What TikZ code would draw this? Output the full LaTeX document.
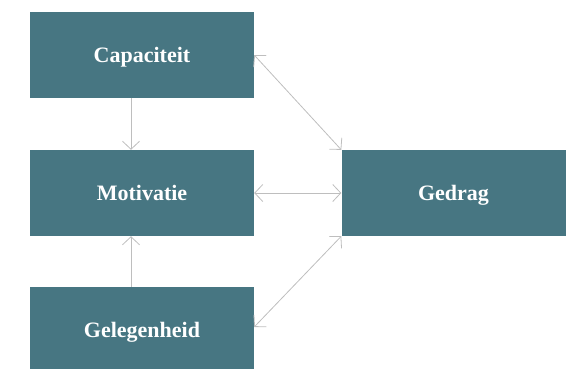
\documentclass[tikz,border=0pt]{standalone}
\usepackage{fontspec}
\setmainfont{Liberation Serif}
\usetikzlibrary{arrows.meta}

\definecolor{boxteal}{RGB}{71,118,130}
\definecolor{linegrey}{RGB}{190,190,190}

\tikzset{
    box/.style={rectangle, fill=boxteal, text=white, minimum width=224pt, minimum height=86pt,
        inner sep=0pt, text height=15pt, text depth=0pt, font=\bfseries\fontsize{22}{24}\selectfont},
    link/.style={draw=linegrey, line width=0.8pt, {Straight Barb[length=8pt, width=17pt]}-{Straight Barb[length=8pt, width=17pt]}},
    uplink/.style={draw=linegrey, line width=0.8pt, -{Straight Barb[length=8pt, width=17pt]}}
}

\begin{document}
\begin{tikzpicture}[x=1pt, y=-1pt]
    \useasboundingbox (0,0) rectangle (575,368);

    % Draw nodes
    \node[box] (cap) at (142,55) {Capaciteit};
    \node[box] (mot) at (142,193) {Motivatie};
    \node[box] (geleg) at (142,330) {Gelegenheid};
    \node[box] (gedrag) at (453.5,193) {Gedrag};

    % Draw connections
    \draw[uplink] ([xshift=-11pt]cap.south) -- ([xshift=-11pt]mot.north);
    \draw[uplink] ([xshift=-11pt]geleg.north) -- ([xshift=-11pt]mot.south);
    \draw[link] (cap.east) -- (gedrag.north west);
    \draw[link] (mot.east) -- (gedrag.west);
    \draw[link] ([yshift=3pt]geleg.east) -- (gedrag.south west);
\end{tikzpicture}
\end{document}
